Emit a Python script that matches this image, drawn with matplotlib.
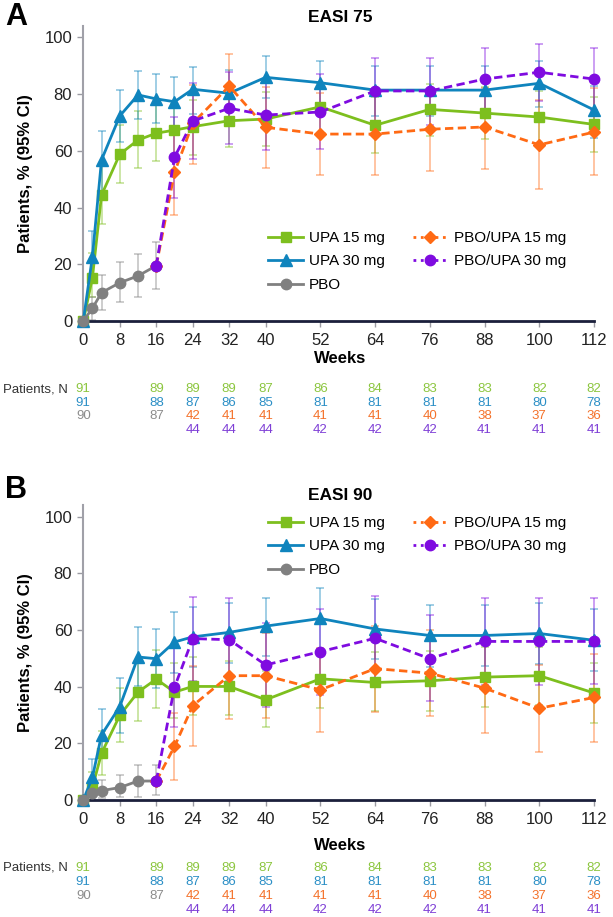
import numpy as np
import matplotlib
matplotlib.use("Agg")
import matplotlib.pyplot as plt
from matplotlib.lines import Line2D
import matplotlib.transforms as mtrans

plt.rcParams['font.family'] = ['Liberation Sans', 'DejaVu Sans']

nan = np.nan
weeks_upa = [0, 2, 4, 8, 12, 16, 20, 24, 32, 40, 52, 64, 76, 88, 100, 112]
weeks_pbo = [0, 2, 4, 8, 12, 16]
weeks_sw = [16, 20, 24, 32, 40, 52, 64, 76, 88, 100, 112]
xticks = [0, 8, 16, 24, 32, 40, 52, 64, 76, 88, 100, 112]

# ---------------- Panel A: EASI 75 ----------------
upa15_A = [0, 15.3, 44.4, 58.8, 63.8, 66.2, 67.3, 68.5, 70.6, 71.2, 75.5, 69.0, 74.6, 73.3, 71.9, 69.3]
upa15_A_lo = [nan, 8.6, 34.2, 48.8, 54.0, 56.5, 57.5, 58.5, 61.2, 61.7, 66.0, 59.1, 65.2, 64.0, 62.5, 59.5]
upa15_A_hi = [nan, 24.0, 54.5, 69.1, 74.0, 76.1, 76.5, 78.0, 80.0, 80.8, 84.0, 79.1, 83.7, 82.5, 81.0, 79.0]

upa30_A = [0, 22.7, 56.8, 72.3, 79.7, 78.3, 77.3, 81.7, 80.3, 85.9, 84.0, 81.4, 81.4, 81.4, 83.8, 74.4]
upa30_A_lo = [nan, 14.0, 46.0, 63.0, 71.3, 69.8, 68.0, 73.0, 72.0, 78.5, 76.0, 72.3, 72.3, 72.3, 75.5, 64.6]
upa30_A_hi = [nan, 31.6, 67.0, 81.4, 88.1, 87.0, 85.9, 89.7, 88.5, 93.4, 91.8, 89.9, 89.9, 89.9, 91.6, 83.0]

pbo_A = [0, 4.5, 10.0, 13.5, 15.9, 19.5]
pbo_A_lo = [nan, 0.4, 3.9, 6.6, 8.3, 11.3]
pbo_A_hi = [nan, 8.6, 16.2, 20.9, 23.5, 28.0]

sw15_A = [19.5, 52.4, 69.7, 82.8, 68.3, 65.9, 65.9, 67.6, 68.4, 62.1, 66.6]
sw15_A_lo = [nan, 37.4, 55.2, 71.3, 54.0, 51.4, 51.4, 53.0, 53.7, 46.4, 51.4]
sw15_A_hi = [nan, 67.4, 83.2, 94.3, 82.6, 80.3, 79.5, 81.0, 82.0, 77.8, 82.0]

sw30_A = [19.5, 57.7, 70.5, 75.0, 72.6, 73.7, 81.1, 81.1, 85.3, 87.7, 85.3]
sw30_A_lo = [nan, 43.2, 57.0, 62.3, 60.3, 60.5, 69.0, 69.1, 74.0, 77.5, 74.5]
sw30_A_hi = [nan, 72.0, 83.8, 87.7, 84.0, 87.0, 92.8, 92.8, 96.1, 97.6, 96.1]

# ---------------- Panel B: EASI 90 ----------------
upa15_B = [0, 4.4, 16.5, 29.9, 38.1, 42.7, 38.1, 40.1, 40.1, 35.4, 42.8, 41.5, 42.1, 43.4, 43.9, 37.8]
upa15_B_lo = [nan, 1.0, 9.0, 20.4, 28.0, 32.5, 28.9, 30.0, 30.1, 25.7, 32.5, 31.5, 31.3, 32.7, 33.5, 27.1]
upa15_B_hi = [nan, 10.0, 24.5, 39.5, 48.4, 53.1, 48.4, 50.5, 49.0, 45.5, 53.0, 52.3, 52.5, 54.0, 54.0, 48.5]

upa30_B = [0, 8.0, 23.0, 33.0, 50.5, 49.9, 55.8, 57.6, 59.2, 61.4, 64.1, 60.4, 58.1, 58.1, 58.8, 56.4]
upa30_B_lo = [nan, 3.0, 15.0, 23.6, 40.4, 39.5, 45.0, 47.0, 48.5, 50.7, 53.5, 49.8, 47.0, 47.2, 48.0, 45.5]
upa30_B_hi = [nan, 14.4, 32.1, 43.1, 61.0, 60.4, 66.3, 68.1, 69.6, 71.5, 74.7, 71.0, 69.0, 69.0, 69.6, 67.5]

pbo_B = [0, 2.4, 3.3, 4.4, 6.7, 6.7]
pbo_B_lo = [nan, 0.3, 0.7, 1.2, 1.2, 1.7]
pbo_B_hi = [nan, 6.7, 7.1, 8.8, 12.2, 12.2]

sw15_B = [6.7, 18.9, 33.3, 43.9, 43.9, 38.9, 46.4, 44.8, 39.5, 32.4, 36.2]
sw15_B_lo = [nan, 7.1, 19.2, 28.7, 28.9, 24.0, 31.0, 29.7, 23.8, 17.1, 20.4]
sw15_B_hi = [nan, 30.7, 47.4, 58.5, 59.0, 53.8, 61.5, 60.0, 55.0, 47.5, 51.5]

sw30_B = [6.7, 39.8, 57.0, 56.6, 47.7, 52.4, 57.1, 49.9, 56.0, 56.0, 56.0]
sw30_B_lo = [nan, 25.7, 42.0, 42.0, 32.8, 37.2, 42.0, 34.8, 40.5, 40.7, 41.0]
sw30_B_hi = [nan, 54.5, 71.6, 71.5, 62.5, 67.5, 72.2, 65.3, 71.4, 71.4, 71.4]

# ---------------- Patients, N ----------------
n_weeks = [0, 16, 24, 32, 40, 52, 64, 76, 88, 100, 112]
n_upa15 = [91, 89, 89, 89, 87, 86, 84, 83, 83, 82, 82]
n_upa30 = [91, 88, 87, 86, 85, 81, 81, 81, 81, 80, 78]
n_pbo_weeks = [0, 16]
n_pbo = [90, 87]
n_sw_weeks = [24, 32, 40, 52, 64, 76, 88, 100, 112]
n_sw15 = [42, 41, 41, 41, 41, 40, 38, 37, 36]
n_sw30 = [44, 44, 44, 42, 42, 42, 41, 41, 41]

labels = ["UPA 15 mg", "UPA 30 mg", "PBO", "PBO/UPA 15 mg", "PBO/UPA 30 mg"]
C_G = "#7dbf1e"
C_B = "#0f84bd"
C_P = "#808080"
C_O = "#ff6a14"
C_V = "#7f0be0"
TC_G = "#8cc63f"
TC_B = "#2b8fc6"
TC_P = "#8c8c8c"
TC_O = "#f4722b"
TC_V = "#7e3fd6"

W, H = 613, 917
fig = plt.figure(figsize=(W / 100, H / 100), dpi=100)


def px_axes(l, t, r, b):
    return fig.add_axes([l / W, 1 - b / H, (r - l) / W, (b - t) / H])


def draw_panel(ax, data, title, letter, letter_y, title_y, leg_y, weeks_lbl_y, rows_y):
    styles = [
        (weeks_upa, C_G, 's', '-', 7.5),
        (weeks_upa, C_B, '^', '-', 8),
        (weeks_pbo, C_P, 'o', '-', 7.5),
        (weeks_sw, C_O, 'D', '--', 6),
        (weeks_sw, C_V, 'o', '--', 7.5),
    ]
    for (wk, col, mk, ls, ms), (v, lo, hi) in zip(styles, data):
        v = np.array(v, float); lo = np.array(lo, float); hi = np.array(hi, float)
        ax.errorbar(wk, v, yerr=[v - lo, hi - v], fmt='none', ecolor=col, alpha=0.5,
                    elinewidth=1.1, capsize=3, capthick=1.1, clip_on=False, zorder=2)
    for i, ((wk, col, mk, ls, ms), (v, lo, hi)) in enumerate(zip(styles, data)):
        line, = ax.plot(wk, v, color=col, marker=mk, ms=ms, lw=2, ls=ls,
                        clip_on=False, zorder=3 + i)
        if ls == '--':
            line.set_dashes((3, 1.6))
    ax.set_xlim(0, 112)
    ax.set_ylim(0, 104)
    ax.set_yticks([0, 20, 40, 60, 80, 100])
    ax.set_xticks(xticks)
    ax.tick_params(axis='both', labelsize=12, colors='#9a9aa2', labelcolor='#222222',
                   length=4.5, width=1)
    ax.tick_params(axis='x', pad=4)
    for s in ['top', 'right']:
        ax.spines[s].set_visible(False)
    ax.spines['left'].set_color('#a0a0a8')
    ax.spines['left'].set_linewidth(1.5)
    ax.spines['bottom'].set_color('#1b1f3b')
    ax.spines['bottom'].set_linewidth(2)
    ax.set_ylabel("Patients, % (95% CI)", fontsize=12, fontweight='bold', labelpad=8)
    fig.text(340 / W, 1 - title_y / H, title, fontsize=12.5, fontweight='bold',
             ha='center', va='center')
    fig.text(5 / W, 1 - letter_y / H, letter, fontsize=22, fontweight='bold',
             ha='left', va='center')
    fig.text(340 / W, 1 - weeks_lbl_y / H, "Weeks", fontsize=12, fontweight='bold',
             ha='center', va='center')

    handles = [
        Line2D([], [], color=C_G, marker='s', ms=7.5, lw=2),
        Line2D([], [], color=C_B, marker='^', ms=8, lw=2),
        Line2D([], [], color=C_P, marker='o', ms=7.5, lw=2),
        Line2D([], [], color=C_O, marker='D', ms=6, lw=2, ls=':'),
        Line2D([], [], color=C_V, marker='o', ms=7.5, lw=2, ls=':'),
    ]
    ax.legend(handles, labels, ncol=2, frameon=False, fontsize=11,
              loc='upper left', bbox_to_anchor=(268 / W, 1 - leg_y / H),
              bbox_transform=fig.transFigure, handlelength=2.3, handletextpad=0.4,
              columnspacing=1.8, labelspacing=0.62, borderaxespad=0, borderpad=0)

    tr = mtrans.blended_transform_factory(ax.transData, fig.transFigure)
    fig.text(3 / W, 1 - rows_y[0] / H, "Patients, N", fontsize=9.5, color='#333333',
             ha='left', va='center')
    kw = dict(fontsize=9.5, ha='center', va='center', transform=tr)
    for wk, n in zip(n_weeks, n_upa15):
        ax.text(wk, 1 - rows_y[0] / H, str(n), color=TC_G, **kw)
    for wk, n in zip(n_weeks, n_upa30):
        ax.text(wk, 1 - rows_y[1] / H, str(n), color=TC_B, **kw)
    for wk, n in zip(n_pbo_weeks, n_pbo):
        ax.text(wk, 1 - rows_y[2] / H, str(n), color=TC_P, **kw)
    for wk, n in zip(n_sw_weeks, n_sw15):
        ax.text(wk, 1 - rows_y[2] / H, str(n), color=TC_O, **kw)
    for wk, n in zip(n_sw_weeks, n_sw30):
        ax.text(wk, 1 - rows_y[3] / H, str(n), color=TC_V, **kw)


axA = px_axes(83.3, 26, 594, 321)
draw_panel(axA,
           [(upa15_A, upa15_A_lo, upa15_A_hi), (upa30_A, upa30_A_lo, upa30_A_hi),
            (pbo_A, pbo_A_lo, pbo_A_hi), (sw15_A, sw15_A_lo, sw15_A_hi),
            (sw30_A, sw30_A_lo, sw30_A_hi)],
           "EASI 75", "A", 17, 17, 231, 358, [389, 403, 416.5, 430])

axB = px_axes(83.3, 505.5, 594, 800)
draw_panel(axB,
           [(upa15_B, upa15_B_lo, upa15_B_hi), (upa30_B, upa30_B_lo, upa30_B_hi),
            (pbo_B, pbo_B_lo, pbo_B_hi), (sw15_B, sw15_B_lo, sw15_B_hi),
            (sw30_B, sw30_B_lo, sw30_B_hi)],
           "EASI 90", "B", 490, 495, 516, 845, [868, 882, 896, 910])

fig.savefig("out.png", dpi=100)
